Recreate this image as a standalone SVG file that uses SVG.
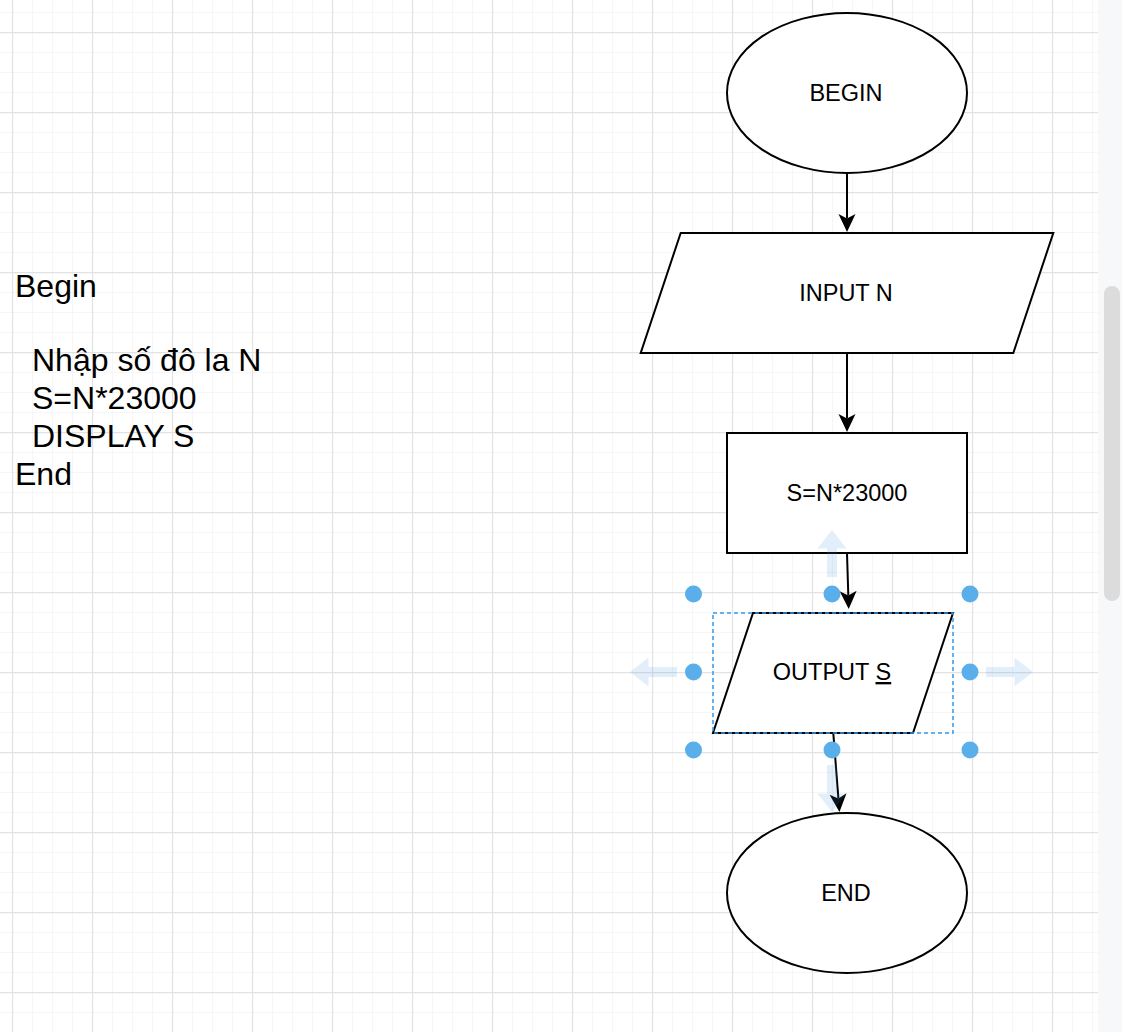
<svg xmlns="http://www.w3.org/2000/svg" xmlns:xlink="http://www.w3.org/1999/xlink" width="1122" height="1032" viewBox="0 0 1122 1032">
<style>
.shape{fill:#ffffff;stroke:#000000;stroke-width:2}
.lbl{font-family:"Liberation Sans",Arial,Helvetica,sans-serif;font-size:23.5px;fill:#000000;text-anchor:middle}
.note{font-family:"Liberation Sans",Arial,Helvetica,sans-serif;font-size:32px;fill:#000000}
.edge{fill:none;stroke:#000000;stroke-width:2}
.handle{fill:#5aafeb}
.hover{fill:#3a95e0;opacity:0.15}
</style>
<defs>
<pattern id="grid" x="12" y="32" width="80" height="80" patternUnits="userSpaceOnUse">
<path d="M20.5,0V80M40.5,0V80M60.5,0V80M0,20.5H80M0,40.5H80M0,60.5H80" stroke="#f6f6f6" stroke-width="1" fill="none"/>
<path d="M0.5,0V80M0,0.5H80" stroke="#e2e2e2" stroke-width="1.3" fill="none"/>
</pattern>
<marker id="arrow" viewBox="0 0 18 18" refX="4.5" refY="9" markerWidth="18" markerHeight="18" markerUnits="userSpaceOnUse" orient="auto">
<path d="M18,9 L0,0.5 L4.5,9 L0,17.5 Z" fill="#000000"/>
</marker>
<path id="hoverArrow" d="M0,0 L14.5,18.5 L5,18.5 L5,47 L-5,47 L-5,18.5 L-14.5,18.5 Z"/>
</defs>

<g id="background">
<rect x="0" y="0" width="1098" height="1032" fill="#ffffff"/>
<rect x="0" y="0" width="1098" height="1032" fill="url(#grid)"/>
<rect x="1098" y="0" width="24" height="1032" fill="#f7f8fa"/>
<rect x="1104" y="286" width="16" height="315" rx="8" fill="#dcdcdc"/>
</g>

<g id="pseudocode">
<text class="note" x="15" y="296.5">Begin</text>
<text class="note" x="32" y="370.5">Nhập số đô la N</text>
<text class="note" x="32" y="408.5">S=N*23000</text>
<text class="note" x="32" y="446.5">DISPLAY S</text>
<text class="note" x="15" y="484.5">End</text>
</g>

<g id="connectors">
<line class="edge" x1="847" y1="173" x2="847" y2="218.5" marker-end="url(#arrow)"/>
<line class="edge" x1="847" y1="353" x2="847" y2="418.5" marker-end="url(#arrow)"/>
<line class="edge" x1="847" y1="553" x2="848.3" y2="595.5" marker-end="url(#arrow)"/>
<line class="edge" x1="833.3" y1="733" x2="838.4" y2="798.5" marker-end="url(#arrow)"/>
</g>

<g id="begin">
<ellipse class="shape" cx="847" cy="93" rx="120" ry="80"/>
<text class="lbl" x="846" y="101">BEGIN</text>
</g>

<g id="input">
<polygon class="shape" points="680.7,233 1053.3,233 1013.3,353 640.7,353"/>
<text class="lbl" x="846" y="301">INPUT N</text>
</g>

<g id="process">
<rect class="shape" x="727" y="433" width="240" height="120"/>
<text class="lbl" x="847" y="501">S=N*23000</text>
</g>

<g id="output">
<polygon class="shape" points="753,613 953,613 913,733 713,733"/>
<text class="lbl" x="832" y="680">OUTPUT <tspan style="text-decoration:underline">S</tspan></text>
</g>

<g id="end">
<ellipse class="shape" cx="847" cy="893" rx="120" ry="80"/>
<text class="lbl" x="846" y="900.5">END</text>
</g>

<g id="selection">
<rect x="713" y="613" width="240" height="120" fill="none" stroke="#3399ee" stroke-width="1.5" stroke-dasharray="4 3"/>
<use xlink:href="#hoverArrow" class="hover" transform="translate(832,530)"/>
<use xlink:href="#hoverArrow" class="hover" transform="translate(832,812) rotate(180)"/>
<use xlink:href="#hoverArrow" class="hover" transform="translate(630,672) rotate(-90)"/>
<use xlink:href="#hoverArrow" class="hover" transform="translate(1033,672) rotate(90)"/>
<circle class="handle" cx="693.5" cy="594" r="8.5"/>
<circle class="handle" cx="832" cy="594" r="8.5"/>
<circle class="handle" cx="970" cy="594" r="8.5"/>
<circle class="handle" cx="693.5" cy="672" r="8.5"/>
<circle class="handle" cx="970" cy="672" r="8.5"/>
<circle class="handle" cx="693.5" cy="750" r="8.5"/>
<circle class="handle" cx="832" cy="750" r="8.5"/>
<circle class="handle" cx="970" cy="750" r="8.5"/>
</g>
</svg>
